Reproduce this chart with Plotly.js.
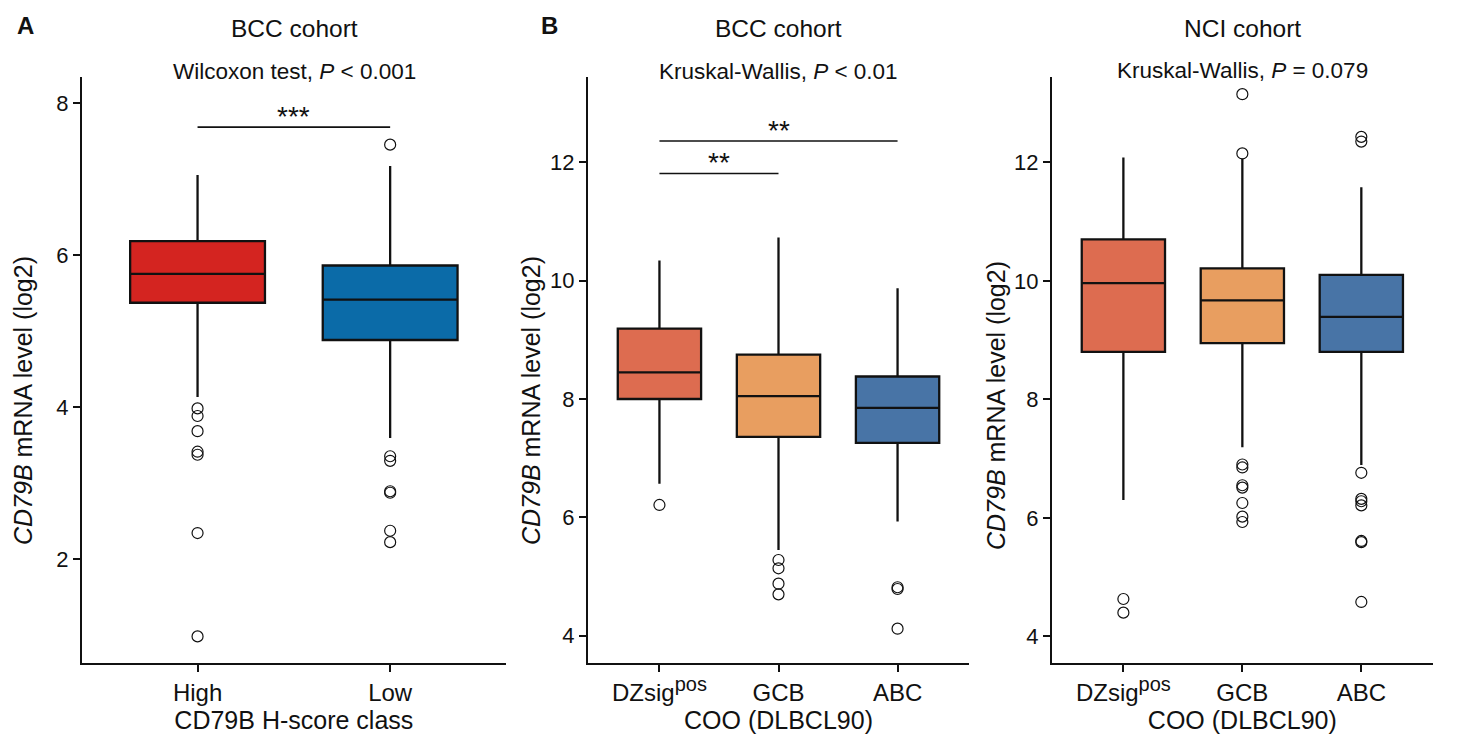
<!DOCTYPE html>
<html>
<head>
<meta charset="utf-8">
<script src="https://cdn.plot.ly/plotly-3.0.1.min.js"></script>
<style>html,body{margin:0;padding:0;background:#fff;}#chart{width:1472px;height:739px;}</style>
</head>
<body>
<div id="chart"></div>
<script>
// ---------- Panel A: BCC cohort, CD79B H-score class ----------
const catA = ['High', 'Low'];
const colorsA = ['#D42420', '#0B6BA8'];
const A_q1 = [5.37, 4.88];
const A_med = [5.75, 5.41];
const A_q3 = [6.18, 5.86];
const A_lo = [4.13, 3.59];
const A_hi = [7.05, 7.17];
const A_outliers = [
  [3.98, 3.88, 3.68, 3.41, 3.37, 2.34, 0.98],
  [7.45, 3.35, 3.29, 2.89, 2.87, 2.37, 2.22]
];

// ---------- Panel B: BCC cohort, COO (DLBCL90) ----------
const catCOO = ['DZsig', 'GCB', 'ABC'];
const tickCOO = ['DZsig<sup><span style="font-size:20px">pos</span></sup>', 'GCB', 'ABC'];
const colorsCOO = ['#DD6C50', '#E89E60', '#4874A6'];
const B_q1 = [8.00, 7.36, 7.26];
const B_med = [8.45, 8.05, 7.85];
const B_q3 = [9.19, 8.75, 8.38];
const B_lo = [6.57, 5.45, 5.93];
const B_hi = [10.34, 10.73, 9.87];
const B_outliers = [
  [6.21],
  [5.28, 5.14, 4.88, 4.70],
  [4.82, 4.79, 4.12]
];

// ---------- Panel C: NCI cohort, COO (DLBCL90) ----------
const C_q1 = [8.80, 8.95, 8.80];
const C_med = [9.96, 9.67, 9.39];
const C_q3 = [10.70, 10.21, 10.10];
const C_lo = [6.30, 7.19, 6.89];
const C_hi = [12.08, 12.06, 11.58];
const C_outliers = [
  [4.63, 4.40],
  [13.15, 12.15, 6.90, 6.85, 6.55, 6.51, 6.25, 6.02, 5.93],
  [12.43, 12.35, 6.76, 6.32, 6.28, 6.21, 5.61, 5.59, 4.58]
];

// significance brackets
const sigA = {from: ['High'], to: ['Low'], y: [7.68], label: ['***']};
const sigB = {from: ['DZsig', 'DZsig'], to: ['ABC', 'GCB'], y: [12.36, 11.81], label: ['**', '**']};

const FONT = 'Liberation Sans, Arial, Helvetica, sans-serif';
const W = 1472, H = 739;

const traces = [];
function addPanel(cats, colors, q1, med, q3, lo, hi, outs, xa, ya) {
  cats.forEach((c, i) => {
    traces.push({
      type: 'box', x: [c], q1: [q1[i]], median: [med[i]], q3: [q3[i]],
      lowerfence: [lo[i]], upperfence: [hi[i]],
      width: 0.7, whiskerwidth: 0, boxpoints: false,
      fillcolor: colors[i], line: {color: '#111111', width: 2.3},
      xaxis: xa, yaxis: ya, showlegend: false, hoverinfo: 'skip'
    });
    traces.push({
      type: 'scatter', mode: 'markers', x: outs[i].map(() => c), y: outs[i],
      marker: {symbol: 'circle-open', size: 11, color: '#111111', line: {width: 1.2, color: '#111111'}},
      xaxis: xa, yaxis: ya, showlegend: false, hoverinfo: 'skip'
    });
  });
}
addPanel(catA, colorsA, A_q1, A_med, A_q3, A_lo, A_hi, A_outliers, 'x', 'y');
addPanel(catCOO, colorsCOO, B_q1, B_med, B_q3, B_lo, B_hi, B_outliers, 'x2', 'y2');
addPanel(catCOO, colorsCOO, C_q1, C_med, C_q3, C_lo, C_hi, C_outliers, 'x3', 'y3');

const annotations = [];
function addSig(sig, xa, ya) {
  sig.y.forEach((yv, i) => {
    traces.push({
      type: 'scatter', mode: 'lines', x: [sig.from[i], sig.to[i]], y: [yv, yv],
      line: {color: '#111111', width: 1.6}, xaxis: xa, yaxis: ya, showlegend: false, hoverinfo: 'skip'
    });
  });
}
addSig(sigA, 'x', 'y');
addSig(sigB, 'x2', 'y2');

// asterisk labels centred between categories
function sigLabels(sig, cats, xa, ya) {
  sig.y.forEach((yv, i) => {
    const a = cats.indexOf(sig.from[i]), b = cats.indexOf(sig.to[i]);
    annotations.push({
      xref: xa, yref: ya, x: (a + b) / 2, y: yv, text: sig.label[i], showarrow: false,
      yanchor: 'bottom', yshift: -7, font: {family: FONT, size: 28, color: '#111'}
    });
  });
}
sigLabels(sigA, catA, 'x', 'y');
sigLabels(sigB, catCOO, 'x2', 'y2');

function px(x) { return x / W; }
function py(y) { return 1 - y / H; }

function paperText(text, x, y, size, extra) {
  annotations.push(Object.assign({
    xref: 'paper', yref: 'paper', x: px(x), y: py(y), text: text, showarrow: false,
    xanchor: 'center', yanchor: 'middle', font: {family: FONT, size: size, color: '#111'}
  }, extra || {}));
}
// panel titles
paperText('BCC cohort', 294, 29, 24.5);
paperText('Wilcoxon test, <i>P</i> &lt; 0.001', 294, 72, 22.5);
paperText('BCC cohort', 778.5, 29, 24.5);
paperText('Kruskal-Wallis, <i>P</i> &lt; 0.01', 778.5, 72, 22.5);
paperText('NCI cohort', 1242, 29, 24.5);
paperText('Kruskal-Wallis, <i>P</i> = 0.079', 1242, 70, 22.5);
// panel letters
paperText('<b>A</b>', 25, 25, 24);
paperText('<b>B</b>', 549, 25, 24);
// y-axis titles
paperText('<i>CD79B</i> mRNA level (log2)', 23, 401, 25, {textangle: -90});
paperText('<i>CD79B</i> mRNA level (log2)', 531, 401, 25, {textangle: -90});
paperText('<i>CD79B</i> mRNA level (log2)', 996, 405, 25, {textangle: -90});

const yDom = [py(663), py(77)];
function xAxis(domain, cats, ticktext, range, title) {
  return {
    domain: domain, type: 'category', categoryorder: 'array', categoryarray: cats,
    tickvals: cats, ticktext: ticktext, range: range,
    showline: true, linecolor: '#111', linewidth: 2, mirror: false,
    ticks: 'outside', ticklen: 7, tickwidth: 2, tickcolor: '#111',
    tickfont: {family: FONT, size: 24, color: '#111'}, showgrid: false, zeroline: false,
    title: {text: title, font: {family: FONT, size: 25, color: '#111'}, standoff: 7},
    fixedrange: true
  };
}
function yAxis(range, tickvals, anchor) {
  return {
    domain: yDom, range: range, tickvals: tickvals, anchor: anchor,
    showline: true, linecolor: '#111', linewidth: 2,
    ticks: 'outside', ticklen: 7, tickwidth: 2, tickcolor: '#111',
    tickfont: {family: FONT, size: 22, color: '#111'}, showgrid: false, zeroline: false,
    fixedrange: true
  };
}

const layout = {
  width: W, height: H, margin: {l: 0, r: 0, t: 0, b: 0},
  paper_bgcolor: '#fff', plot_bgcolor: '#fff', showlegend: false, boxmode: 'overlay',
  font: {family: FONT, color: '#111'},
  xaxis: Object.assign(xAxis([px(82), px(505.7)], catA, catA, [-0.6, 1.6], 'CD79B H-score class'), {anchor: 'y'}),
  yaxis: yAxis([0.63, 8.34], [2, 4, 6, 8], 'x'),
  xaxis2: Object.assign(xAxis([px(588), px(969)], catCOO, tickCOO, [-0.6, 2.6], 'COO (DLBCL90)'), {anchor: 'y2'}),
  yaxis2: yAxis([3.54, 13.44], [4, 6, 8, 10, 12], 'x2'),
  xaxis3: Object.assign(xAxis([px(1052), px(1432.7)], catCOO, tickCOO, [-0.6, 2.6], 'COO (DLBCL90)'), {anchor: 'y3'}),
  yaxis3: yAxis([3.55, 13.44], [4, 6, 8, 10, 12], 'x3'),
  annotations: annotations
};

Plotly.newPlot('chart', traces, layout, {staticPlot: true, displayModeBar: false});
</script>
</body>
</html>
